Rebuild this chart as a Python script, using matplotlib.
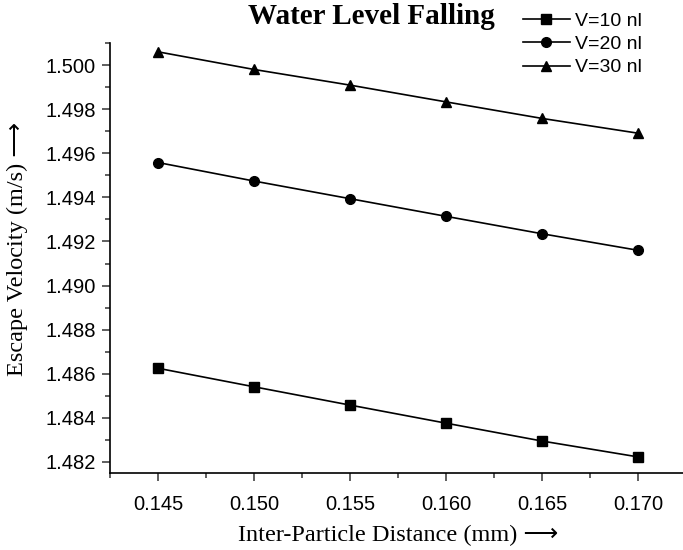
import numpy as np
import matplotlib
matplotlib.use('Agg')
import matplotlib.pyplot as plt
from matplotlib.ticker import MultipleLocator, FormatStrFormatter

# inter-particle distance (mm)
distance = [0.145, 0.150, 0.155, 0.160, 0.165, 0.170]

# escape velocity (m/s) for each drop volume
v10 = [1.48625, 1.48541, 1.48458, 1.48376, 1.48295, 1.48223]
v20 = [1.49558, 1.49474, 1.49394, 1.49314, 1.49235, 1.49160]
v30 = [1.50060, 1.49980, 1.49909, 1.49833, 1.49758, 1.49691]

labels = ['V=10 nl', 'V=20 nl', 'V=30 nl']
markers = ['s', 'o', '^']

serif = ['Liberation Serif', 'DejaVu Sans']
plt.rcParams['font.family'] = ['Liberation Sans', 'DejaVu Sans']

fig = plt.figure(figsize=(6.83, 5.5), dpi=100)
ax = fig.add_axes([110 / 683, 77 / 550, 576 / 683, 430 / 550])

sizes = [6.5, 7, 7.5]
for ys, m, lab, ms in zip([v10, v20, v30], markers, labels, sizes):
    ax.plot(distance, ys, color='black', lw=1.2, marker=m, markersize=ms, label=lab)

ax.set_xlim(0.1425, 0.1725)
ax.set_ylim(1.4815, 1.501)

ax.xaxis.set_major_locator(MultipleLocator(0.005))
ax.xaxis.set_minor_locator(MultipleLocator(0.0025))
ax.yaxis.set_major_locator(MultipleLocator(0.002))
ax.yaxis.set_minor_locator(MultipleLocator(0.001))
ax.xaxis.set_major_formatter(FormatStrFormatter('%.3f'))
ax.yaxis.set_major_formatter(FormatStrFormatter('%.3f'))

ax.spines['top'].set_visible(False)
ax.spines['right'].set_visible(False)
for s in ['left', 'bottom']:
    ax.spines[s].set_linewidth(1.2)

ax.tick_params(which='major', direction='out', length=6, width=1.1, labelsize=14.5, color='#333333')
ax.tick_params(which='minor', direction='out', length=3.5, width=1.1, color='#333333')
ax.tick_params(axis='x', pad=10)
ax.tick_params(axis='y', pad=4)

# long arrow after the axis titles, as in the original figure
ax.set_xlabel('Inter-Particle Distance (mm) \u27f6', family=serif, fontsize=17.5, labelpad=8)
ax.set_ylabel('Escape Velocity (m/s) \u27f6', family=serif, fontsize=17.5)
ax.yaxis.set_label_coords(-0.142, 0.52)

fig.text(371 / 683, 1 - 16 / 550, 'Water Level Falling', family=serif, fontsize=21,
         fontweight='bold', ha='center', va='center')

ax.legend(loc='upper left', bbox_to_anchor=(523 / 683, 1 - 12 / 550),
          bbox_transform=fig.transFigure, frameon=False, fontsize=14,
          handlelength=2.4, handletextpad=0.25, labelspacing=0.3, borderpad=0,
          borderaxespad=0)

fig.savefig('out.png', dpi=100)
